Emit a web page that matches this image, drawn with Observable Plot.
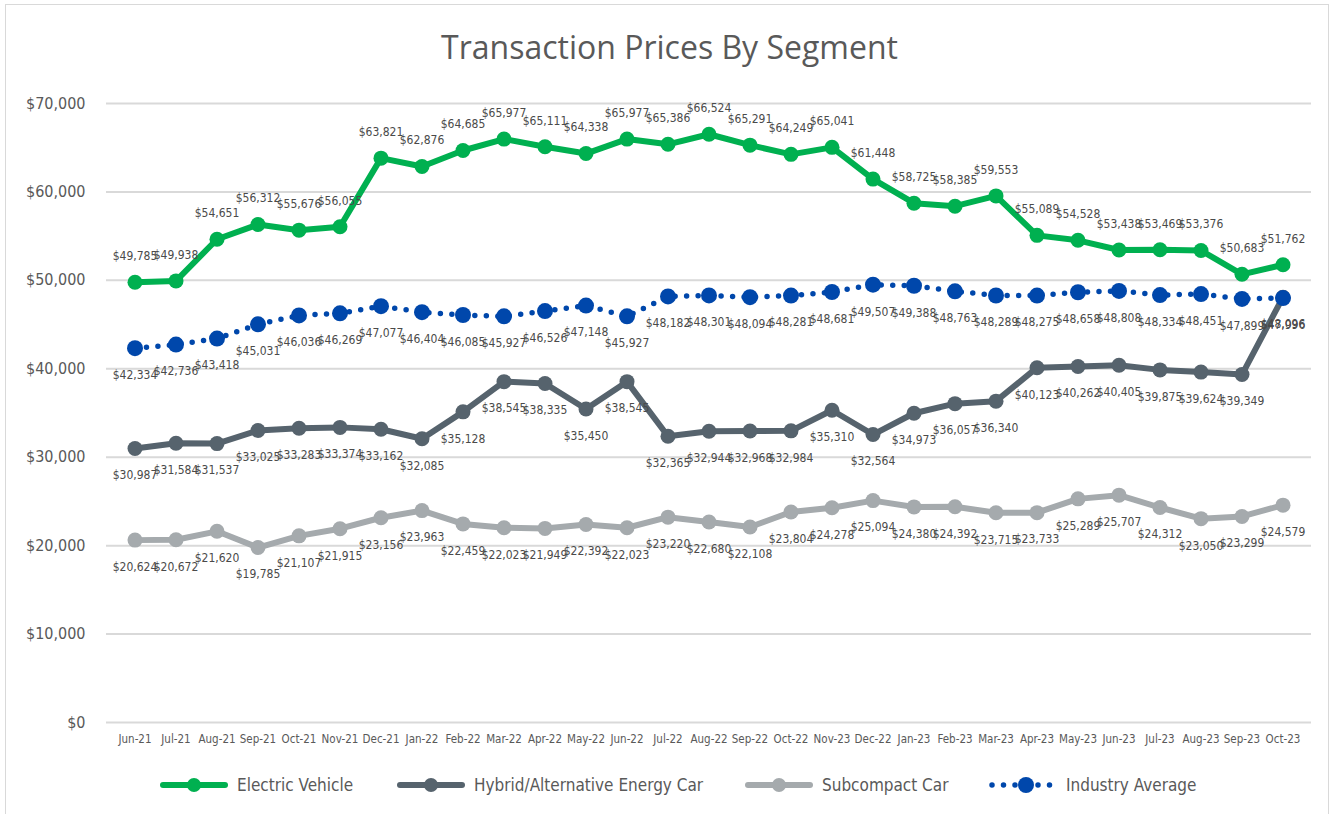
<!DOCTYPE html>
<html>
<head>
<meta charset="utf-8">
<script src="https://cdn.jsdelivr.net/npm/d3@7"></script>
<script src="https://cdn.jsdelivr.net/npm/@observablehq/plot@0.6"></script>
<style>
  body { margin: 0; background: #fff; }
  #page { position: relative; width: 1339px; height: 814px; overflow: hidden; background: #fff; }
  #frame { position: absolute; left: 5px; top: 4px; width: 1324px; height: 812px; border: 1px solid #d9d9d9; box-sizing: border-box; pointer-events: none; }
  #title { position: absolute; left: 0; top: 25px; width: 1339px; text-align: center; font-family: "Open Sans", sans-serif; font-size: 32px; color: #595959; }
  #chart { position: absolute; left: 0; top: 85px; }
  #legend { position: absolute; left: 0; top: 771px; width: 1339px; height: 28px; font-family: "Liberation Sans Narrow", "DejaVu Sans Condensed", sans-serif; font-size: 17px; color: #595959; }
  .item { position: absolute; top: 0; display: flex; align-items: center; height: 28px; }
  .item svg { margin-right: 9px; }
</style>
</head>
<body>
<div id="page">
  <div id="title">Transaction Prices By Segment</div>
  <div id="chart"></div>
  <div id="legend"></div>
  <div id="frame"></div>
</div>
<script>
const months = ["Jun-21","Jul-21","Aug-21","Sep-21","Oct-21","Nov-21","Dec-21","Jan-22","Feb-22","Mar-22","Apr-22","May-22","Jun-22","Jul-22","Aug-22","Sep-22","Oct-22","Nov-23","Dec-22","Jan-23","Feb-23","Mar-23","Apr-23","May-23","Jun-23","Jul-23","Aug-23","Sep-23","Oct-23"];
const electric = [49785,49938,54651,56312,55676,56055,63821,62876,64685,65977,65111,64338,65977,65386,66524,65291,64249,65041,61448,58725,58385,59553,55089,54528,53438,53469,53376,50683,51762];
const hybrid = [30987,31584,31537,33025,33283,33374,33162,32085,35128,38545,38335,35450,38545,32365,32944,32968,32984,35310,32564,34973,36057,36340,40123,40262,40405,39875,39624,39349,48096];
const subcompact = [20624,20672,21620,19785,21107,21915,23156,23963,22459,22023,21949,22392,22023,23220,22680,22108,23804,24278,25094,24380,24392,23715,23733,25289,25707,24312,23050,23299,24579];
const industry = [42334,42736,43418,45031,46036,46269,47077,46404,46085,45927,46526,47148,45927,48182,48301,48094,48281,48681,49507,49388,48763,48289,48275,48658,48808,48334,48451,47899,47996];
const yTicks = [0,10000,20000,30000,40000,50000,60000,70000];

const seriesNames = ["Electric Vehicle","Hybrid/Alternative Energy Car","Subcompact Car","Industry Average"];
const seriesColors = ["#00b050","#56636d","#a5aaad","#0047ab"];

const table = (name, vals) => months.map((m, i) => ({month: m, value: vals[i], series: name}));
const evData = table(seriesNames[0], electric);
const hyData = table(seriesNames[1], hybrid);
const scData = table(seriesNames[2], subcompact);
const inData = table(seriesNames[3], industry);

const fmt = d3.format("$,.0f");
const labelFont = "Liberation Sans Narrow, DejaVu Sans Condensed, sans-serif";

function solidSeries(data, color) {
  return [
    Plot.line(data, {x: "month", y: "value", stroke: color, strokeWidth: 6, strokeLinejoin: "round"}),
    Plot.dot(data, {x: "month", y: "value", fill: color, r: 7.5})
  ];
}

const chart = Plot.plot({
  width: 1339,
  height: 680,
  marginTop: 18,
  marginBottom: 43,
  marginLeft: 106,
  marginRight: 28,
  style: {fontFamily: labelFont, color: "#595959", background: "transparent"},
  x: {type: "band", domain: months, padding: 0, label: null},
  y: {domain: [0, 70000], label: null},
  marks: [
    Plot.gridY(yTicks, {stroke: "#d9d9d9", strokeOpacity: 1, strokeWidth: 2}),
    Plot.axisY(yTicks, {tickFormat: d => fmt(d), tickSize: 0, tickPadding: 21, fontSize: 16, fill: "#595959", label: null}),
    Plot.axisX({tickSize: 0, tickPadding: 12, fontSize: 11.5, fill: "#595959", label: null}),
    ...solidSeries(evData, seriesColors[0]),
    ...solidSeries(hyData, seriesColors[1]),
    ...solidSeries(scData, seriesColors[2]),
    Plot.line(inData, {x: "month", y: "value", stroke: seriesColors[3], strokeWidth: 5.5, strokeDasharray: "0 11.5", strokeLinecap: "round"}),
    Plot.dot(inData, {x: "month", y: "value", fill: seriesColors[3], r: 8}),
    Plot.text(evData, {x: "month", y: "value", text: d => fmt(d.value), dy: -26, fontSize: 12, fill: "#4a4a4a"}),
    Plot.text(hyData, {x: "month", y: "value", text: d => fmt(d.value), dy: 27, fontSize: 12, fill: "#4a4a4a"}),
    Plot.text(scData, {x: "month", y: "value", text: d => fmt(d.value), dy: 27, fontSize: 12, fill: "#4a4a4a"}),
    Plot.text(inData, {x: "month", y: "value", text: d => fmt(d.value), dy: 27, fontSize: 12, fill: "#4a4a4a"})
  ]
});
document.getElementById("chart").appendChild(chart);

// Legend
const legendPos = [160, 397, 745, 989];
const legend = document.getElementById("legend");
seriesNames.forEach((name, i) => {
  const item = document.createElement("div");
  item.className = "item";
  item.style.left = legendPos[i] + "px";
  const c = seriesColors[i];
  let sw;
  if (i < 3) {
    sw = `<svg width="68" height="20"><line x1="3" y1="10" x2="65" y2="10" stroke="${c}" stroke-width="6" stroke-linecap="round"/><circle cx="34" cy="10" r="7" fill="${c}"/></svg>`;
  } else {
    sw = `<svg width="68" height="20"><line x1="3" y1="10" x2="65" y2="10" stroke="${c}" stroke-width="5.5" stroke-dasharray="0 11.5" stroke-linecap="round"/><circle cx="37" cy="10" r="8" fill="${c}"/></svg>`;
  }
  item.innerHTML = sw + `<span>${name}</span>`;
  legend.appendChild(item);
});
</script>
</body>
</html>
